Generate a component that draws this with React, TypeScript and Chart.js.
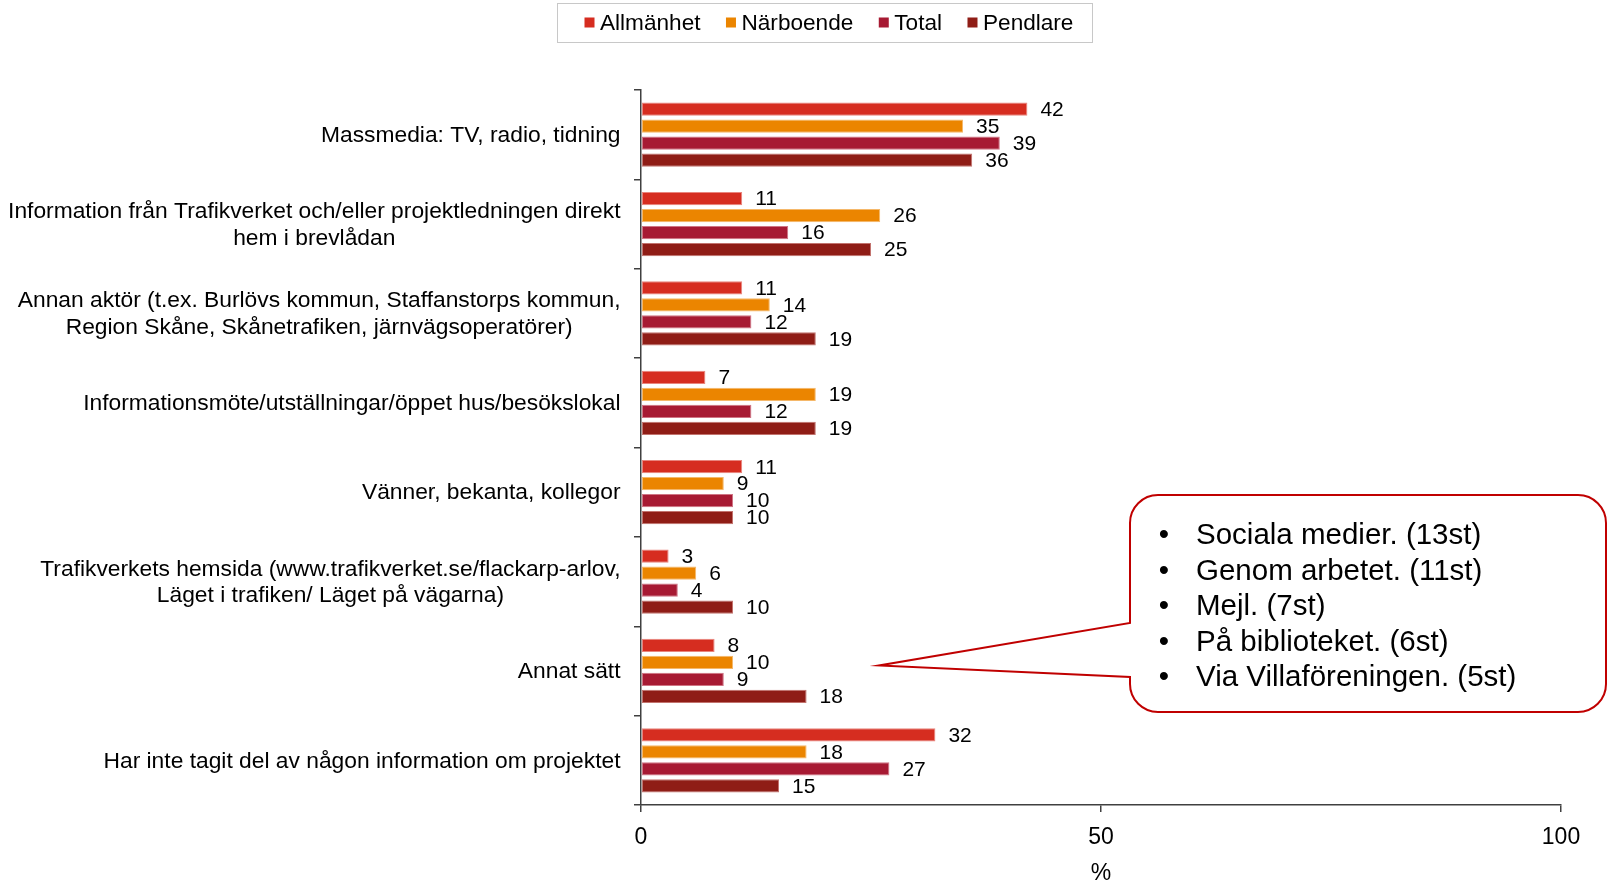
import React, { useEffect, useRef } from "react";
import { Chart, registerables } from "chart.js";
Chart.register(...registerables);

const FONT = "'Liberation Sans', Arial, Helvetica, sans-serif";

const categories: (string | string[])[] = [
  "Massmedia: TV, radio, tidning",
  ["Information från Trafikverket och/eller projektledningen direkt", "hem i brevlådan"],
  ["Annan aktör (t.ex. Burlövs kommun, Staffanstorps kommun,", "Region Skåne, Skånetrafiken, järnvägsoperatörer)"],
  "Informationsmöte/utställningar/öppet hus/besökslokal",
  "Vänner, bekanta, kollegor",
  ["Trafikverkets hemsida (www.trafikverket.se/flackarp-arlov,", "Läget i trafiken/ Läget på vägarna)"],
  "Annat sätt",
  "Har inte tagit del av någon information om projektet",
];

const seriesNames = ["Allmänhet", "Närboende", "Total", "Pendlare"];
const allmanhet = [42, 11, 11, 7, 11, 3, 8, 32];
const narboende = [35, 26, 14, 19, 9, 6, 10, 18];
const total = [39, 16, 12, 12, 10, 4, 9, 27];
const pendlare = [36, 25, 19, 19, 10, 10, 18, 15];
const seriesColors = ["#D62D20", "#EB8500", "#A71A33", "#8F1D16"];
const seriesBorders = ["#E9857D", "#F5B86A", "#CF7484", "#C2736E"];

const xTicks = [0, 50, 100];
const xTitle = "%";

const calloutItems = [
  "Sociala medier. (13st)",
  "Genom arbetet. (11st)",
  "Mejl. (7st)",
  "På biblioteket. (6st)",
  "Via Villaföreningen. (5st)",
];

export default function App() {
  const ref = useRef<HTMLCanvasElement>(null);

  useEffect(() => {
    document.body.style.margin = "0";
    const canvas = ref.current!;

    const labelsPlugin = {
      id: "customText",
      afterDatasetsDraw(chart: any) {
        const ctx = chart.ctx;
        ctx.save();
        ctx.font = `21px ${FONT}`;
        ctx.fillStyle = "#000";
        ctx.textAlign = "left";
        ctx.textBaseline = "middle";
        chart.data.datasets.forEach((ds: any, di: number) => {
          const meta = chart.getDatasetMeta(di);
          meta.data.forEach((el: any, i: number) => {
            ctx.fillText(String(ds.data[i]), el.x + 13, el.y + 1);
          });
        });
        ctx.restore();
      },
      afterDraw(chart: any) {
        const ctx = chart.ctx;
        const ys = chart.scales.y;
        // category labels, each block centred, right-aligned as a block
        ctx.save();
        ctx.font = `22.8px ${FONT}`;
        ctx.fillStyle = "#000";
        ctx.textAlign = "center";
        ctx.textBaseline = "middle";
        const rightEdge = ys.right - 20.5;
        const lh = 26.7;
        (chart.data.labels as any[]).forEach((lab: any, i: number) => {
          const lines: string[] = Array.isArray(lab) ? lab : [lab];
          const w = Math.max(...lines.map((l) => ctx.measureText(l).width));
          const cx = rightEdge - w / 2;
          const cy = ys.getPixelForValue(i);
          lines.forEach((l, j) => {
            ctx.fillText(l, cx, cy + (j - (lines.length - 1) / 2) * lh + 1);
          });
        });
        ctx.restore();

        // legend with box
        ctx.save();
        ctx.font = `22.6px ${FONT}`;
        ctx.textBaseline = "middle";
        ctx.textAlign = "left";
        const box = 10, gapBox = 5.5, gapItem = 25.5;
        const widths = chart.data.datasets.map((d: any) => box + gapBox + ctx.measureText(d.label).width);
        const bx0 = 557, bx1 = 1092, by0 = 3, by1 = 42;
        ctx.fillStyle = "#fff";
        ctx.fillRect(bx0, by0, bx1 - bx0, by1 - by0);
        ctx.strokeStyle = "#C8C8C8";
        ctx.lineWidth = 1;
        ctx.strokeRect(bx0 + 0.5, by0 + 0.5, bx1 - bx0, by1 - by0);
        let x = bx0 + 27.5;
        const cy = 22.5;
        chart.data.datasets.forEach((d: any, i: number) => {
          ctx.fillStyle = d.backgroundColor;
          ctx.fillRect(x, cy - box / 2, box, box);
          ctx.fillStyle = "#000";
          ctx.fillText(d.label, x + box + gapBox, cy + 1);
          x += widths[i] + gapItem;
        });
        ctx.restore();

        // callout
        ctx.save();
        const L = 1130, T = 495, R = 1606, B = 712, r = 28;
        const tipX = 879, tipY = 665.5, j1 = 623, j2 = 677;
        ctx.beginPath();
        ctx.moveTo(L + r, T);
        ctx.lineTo(R - r, T);
        ctx.arcTo(R, T, R, T + r, r);
        ctx.lineTo(R, B - r);
        ctx.arcTo(R, B, R - r, B, r);
        ctx.lineTo(L + r, B);
        ctx.arcTo(L, B, L, B - r, r);
        ctx.lineTo(L, j2);
        ctx.lineTo(tipX, tipY);
        ctx.lineTo(L, j1);
        ctx.lineTo(L, T + r);
        ctx.arcTo(L, T, L + r, T, r);
        ctx.closePath();
        ctx.fillStyle = "#fff";
        ctx.fill();
        ctx.strokeStyle = "#C00000";
        ctx.lineWidth = 2;
        ctx.stroke();
        ctx.font = `29.5px ${FONT}`;
        ctx.fillStyle = "#000";
        ctx.textBaseline = "middle";
        const lineYs = [536, 572, 607, 643, 678];
        calloutItems.forEach((t, i) => {
          ctx.textAlign = "center";
          ctx.fillText("•", 1164, lineYs[i]);
          ctx.textAlign = "left";
          ctx.fillText(t, 1196, lineYs[i]);
        });
        ctx.restore();
      },
    };

    const seriesData = [allmanhet, narboende, total, pendlare];

    const chart = new Chart(canvas, {
      type: "bar",
      data: {
        labels: categories as any,
        datasets: seriesNames.map((name, i) => ({
          label: name,
          data: seriesData[i],
          backgroundColor: seriesColors[i],
          borderColor: seriesBorders[i],
          borderWidth: 1,
          borderSkipped: false,
          categoryPercentage: 0.76,
          barPercentage: 0.78,
        })),
      },
      options: {
        indexAxis: "y",
        responsive: false,
        animation: false,
        layout: { padding: { top: 90, right: 47, bottom: 0, left: 0 } },
        plugins: {
          legend: { display: false },
          tooltip: { enabled: false },
        },
        scales: {
          x: {
            type: "linear",
            position: "bottom",
            min: 0,
            max: 100,
            afterBuildTicks: (s: any) => {
              s.ticks = xTicks.map((v) => ({ value: v }));
            },
            ticks: {
              font: { family: FONT, size: 23 },
              color: "#000",
              padding: 12,
              maxRotation: 0,
            },
            grid: {
              drawOnChartArea: false,
              drawTicks: true,
              tickLength: 7,
              color: "#404040",
              lineWidth: 1.5,
            },
            border: { color: "#404040", width: 1.5 },
            title: {
              display: true,
              text: xTitle,
              color: "#000",
              font: { family: FONT, size: 23, lineHeight: 0.65 },
              padding: { top: 0, bottom: 0 },
            },
            afterFit: (s: any) => {
              s.height = 76;
            },
          },
          y: {
            type: "category",
            position: "left",
            ticks: { display: false },
            grid: {
              drawOnChartArea: false,
              drawTicks: true,
              tickLength: 7,
              color: "#404040",
              lineWidth: 1.5,
              offset: true,
            },
            border: { color: "#404040", width: 1.5 },
            afterFit: (s: any) => {
              s.width = 641;
            },
          },
        },
      },
      plugins: [labelsPlugin],
    });
    return () => chart.destroy();
  }, []);

  return (
    <div style={{ position: "absolute", left: 0, top: 0, width: 1608, height: 881, background: "#fff" }}>
      <canvas ref={ref} width={1608} height={881} style={{ display: "block" }} />
    </div>
  );
}
